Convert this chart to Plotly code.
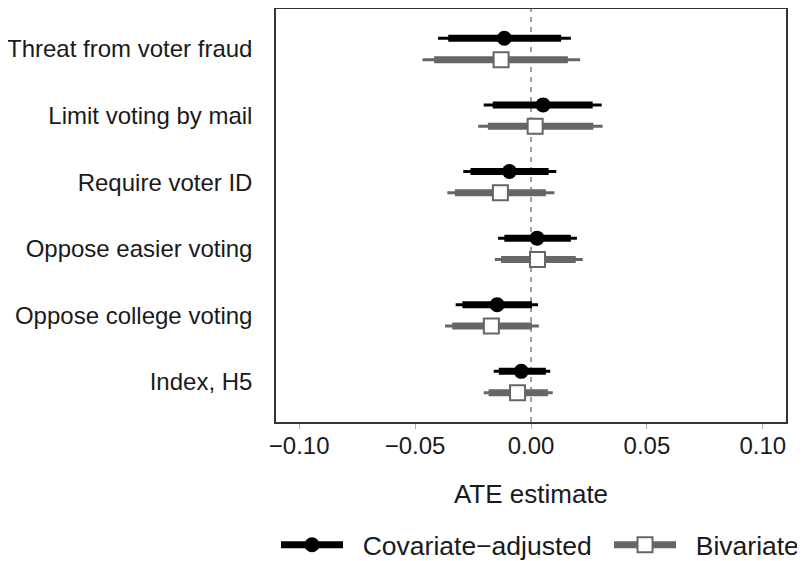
import plotly.graph_objects as go

outcomes = ["Threat from voter fraud", "Limit voting by mail", "Require voter ID",
            "Oppose easier voting", "Oppose college voting", "Index, H5"]

# Covariate-adjusted
cov_est  = [-0.0115, 0.0052, -0.0093, 0.0026, -0.0146, -0.0042]
cov_lo95 = [-0.0401, -0.0204, -0.0292, -0.0142, -0.0325, -0.0161]
cov_hi95 = [0.0172, 0.0305, 0.0109, 0.0198, 0.0030, 0.0083]
cov_lo90 = [-0.0357, -0.0165, -0.0261, -0.0115, -0.0296, -0.0139]
cov_hi90 = [0.0130, 0.0266, 0.0076, 0.0172, 0.0004, 0.0064]

# Bivariate
biv_est  = [-0.0129, 0.0018, -0.0132, 0.0028, -0.0171, -0.0058]
biv_lo95 = [-0.0468, -0.0228, -0.0361, -0.0156, -0.0371, -0.0204]
biv_hi95 = [0.0212, 0.0309, 0.0101, 0.0223, 0.0034, 0.0094]
biv_lo90 = [-0.0418, -0.0186, -0.0328, -0.0129, -0.0340, -0.0183]
biv_hi90 = [0.0159, 0.0269, 0.0064, 0.0193, 0.0004, 0.0073]

x_ticks = [-0.10, -0.05, 0.00, 0.05, 0.10]
x_tick_labels = ["\u22120.10", "\u22120.05", "0.00", "0.05", "0.10"]

n = len(outcomes)
base_pos = [n - i for i in range(n)]
offset = 0.16
cov_y = [p + offset for p in base_pos]
biv_y = [p - offset for p in base_pos]

BLACK = "#000000"
GRAY = "#666666"
FONT = "Liberation Sans, Arial, sans-serif"


def seg(lo, hi, ys):
    xs, yy = [], []
    for a, b, y in zip(lo, hi, ys):
        xs += [a, b, None]
        yy += [y, y, None]
    return xs, yy


fig = go.Figure()

for lo95, hi95, lo90, hi90, ys, col in [
    (cov_lo95, cov_hi95, cov_lo90, cov_hi90, cov_y, BLACK),
    (biv_lo95, biv_hi95, biv_lo90, biv_hi90, biv_y, GRAY),
]:
    xs, yy = seg(lo95, hi95, ys)
    fig.add_trace(go.Scatter(x=xs, y=yy, mode="lines", line=dict(color=col, width=3),
                             showlegend=False, hoverinfo="skip"))
    xs, yy = seg(lo90, hi90, ys)
    fig.add_trace(go.Scatter(x=xs, y=yy, mode="lines", line=dict(color=col, width=7),
                             showlegend=False, hoverinfo="skip"))

fig.add_trace(go.Scatter(x=cov_est, y=cov_y, mode="markers",
                         marker=dict(symbol="circle", size=15, color=BLACK,
                                     line=dict(width=0)),
                         showlegend=False))
fig.add_trace(go.Scatter(x=biv_est, y=biv_y, mode="markers",
                         marker=dict(symbol="square", size=15, color="white",
                                     line=dict(width=2, color=GRAY)),
                         showlegend=False))

# legend entries
fig.add_trace(go.Scatter(x=[None], y=[None], mode="lines+markers",
                         name="\u00a0\u00a0Covariate\u2212adjusted",
                         line=dict(color=BLACK, width=7),
                         marker=dict(symbol="circle", size=15, color=BLACK),
                         legend="legend"))
fig.add_trace(go.Scatter(x=[None], y=[None], mode="lines+markers",
                         name="\u00a0\u00a0Bivariate",
                         line=dict(color=GRAY, width=7),
                         marker=dict(symbol="square", size=15, color="white",
                                     line=dict(width=2, color=GRAY)),
                         legend="legend2"))

fig.add_shape(type="line", xref="x", yref="paper", x0=0, x1=0, y0=0, y1=1,
              line=dict(color="#808080", width=1.5, dash="5px,5px"), layer="below")

fig.update_layout(
    width=805, height=561,
    margin=dict(l=268, r=27, t=1, b=147, autoexpand=False),
    plot_bgcolor="white", paper_bgcolor="white",
    font=dict(family=FONT, color="#1a1a1a", size=24),
    xaxis=dict(range=[-0.11, 0.11], tickvals=x_ticks, ticktext=x_tick_labels,
               showgrid=False, zeroline=False, showline=True, mirror=True,
               linecolor="#333333", linewidth=1.5,
               ticks="outside", ticklen=5, tickcolor="#aaaaaa", tickwidth=1,
               ticklabelstandoff=-4,
               tickfont=dict(size=24, color="#1a1a1a"),
               title=dict(text="ATE estimate", font=dict(size=26), standoff=27)),
    yaxis=dict(range=[0.4, n + 0.6], tickvals=base_pos, ticktext=outcomes,
               showgrid=False, zeroline=False, showline=True, mirror=True,
               linecolor="#333333", linewidth=1.5, ticks="",
               ticklabelstandoff=17,
               tickfont=dict(size=24, color="#1a1a1a")),
    legend=dict(orientation="h", x=0.0, xanchor="left", y=-0.298, yanchor="middle",
                font=dict(size=26.5), itemwidth=62, bgcolor="rgba(0,0,0,0)"),
    legend2=dict(orientation="h", x=0.653, xanchor="left", y=-0.298, yanchor="middle",
                 font=dict(size=26.5), itemwidth=62, bgcolor="rgba(0,0,0,0)"),
)

fig.write_html("out.html")
